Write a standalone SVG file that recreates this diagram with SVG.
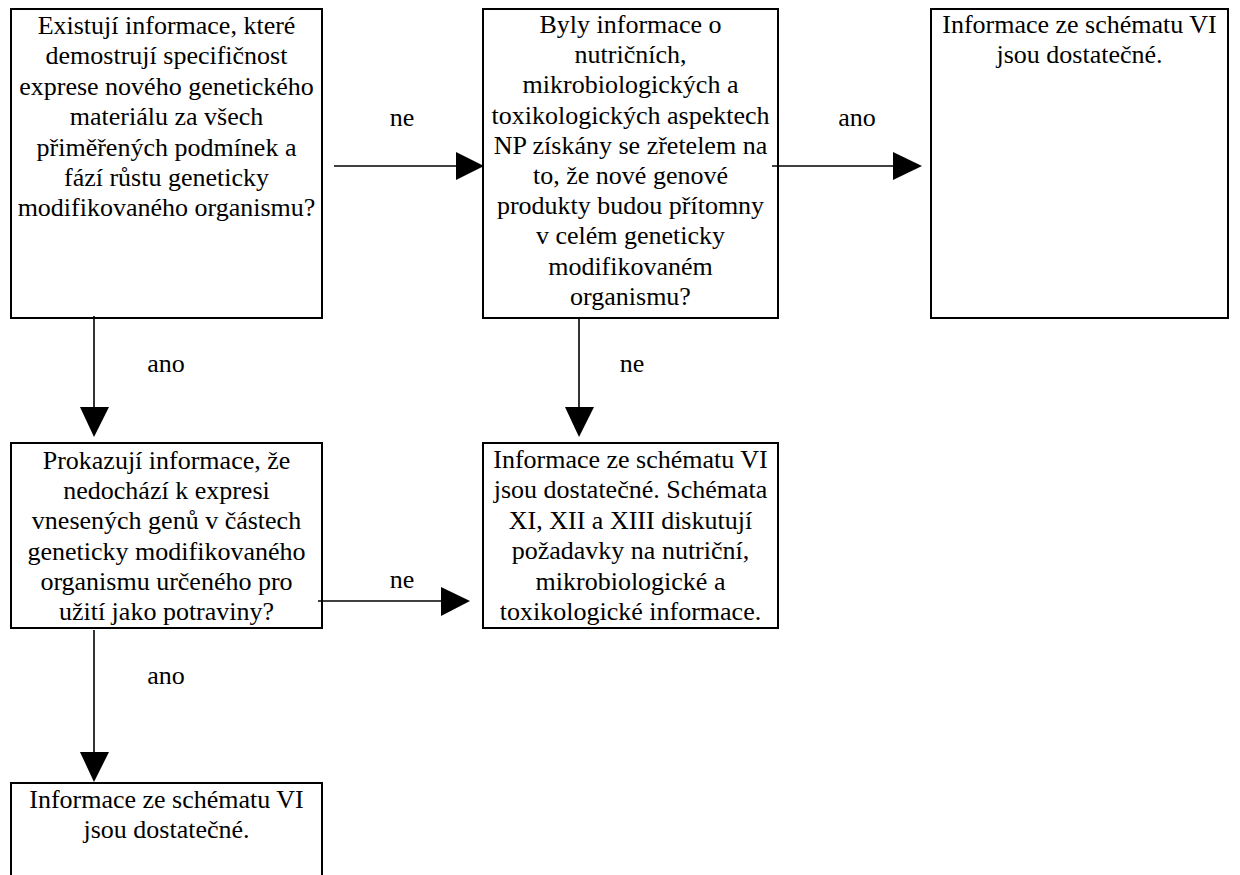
<svg xmlns="http://www.w3.org/2000/svg" width="1240" height="875" viewBox="0 0 1240 875" font-family="'Liberation Serif', 'Times New Roman', Times, serif">
  <style>
    text { font-family: 'Liberation Serif', 'Times New Roman', Times, serif; font-size: 26px; fill: #000000; text-anchor: middle; }
    .box { fill: #ffffff; stroke: #000000; stroke-width: 2; }
    .line { stroke: #000000; stroke-width: 1.6; fill: none; }
    .head { fill: #000000; stroke: none; }
  </style>
  <rect width="1240" height="875" fill="#ffffff"/>

  <!-- decision 1 -->
  <g id="q1">
    <rect class="box" x="11" y="9" width="311" height="309"/>
    <text x="166.5" y="34">Existují informace, které</text>
    <text x="166.5" y="64.4">demostrují specifičnost</text>
    <text x="166.5" y="94.8">exprese nového genetického</text>
    <text x="166.5" y="125.2">materiálu za všech</text>
    <text x="166.5" y="155.6">přiměřených podmínek a</text>
    <text x="166.5" y="186">fází růstu geneticky</text>
    <text x="166.5" y="216.4">modifikovaného organismu?</text>
  </g>

  <!-- decision 2 -->
  <g id="q2">
    <rect class="box" x="483" y="9" width="295" height="309"/>
    <text x="630.5" y="33">Byly informace o</text>
    <text x="630.5" y="63.2">nutričních,</text>
    <text x="630.5" y="93.4">mikrobiologických a</text>
    <text x="630.5" y="123.6">toxikologických aspektech</text>
    <text x="630.5" y="153.8">NP získány se zřetelem na</text>
    <text x="630.5" y="184">to, že nové genové</text>
    <text x="630.5" y="214.2">produkty budou přítomny</text>
    <text x="630.5" y="244.4">v celém geneticky</text>
    <text x="630.5" y="274.6">modifikovaném</text>
    <text x="630.5" y="304.8">organismu?</text>
  </g>

  <!-- result: upper right -->
  <g id="r1">
    <rect class="box" x="931" y="9" width="297" height="309"/>
    <text x="1079.5" y="33">Informace ze schématu VI</text>
    <text x="1079.5" y="63.2">jsou dostatečné.</text>
  </g>

  <!-- decision 3 -->
  <g id="q3">
    <rect class="box" x="11" y="443" width="311" height="185"/>
    <text x="166.5" y="469">Prokazují informace, že</text>
    <text x="166.5" y="499.2">nedochází k expresi</text>
    <text x="166.5" y="529.4">vnesených genů v částech</text>
    <text x="166.5" y="559.6">geneticky modifikovaného</text>
    <text x="166.5" y="589.8">organismu určeného pro</text>
    <text x="166.5" y="620">užití jako potraviny?</text>
  </g>

  <!-- result: middle -->
  <g id="r2">
    <rect class="box" x="483" y="443" width="295" height="185"/>
    <text x="630.5" y="468">Informace ze schématu VI</text>
    <text x="630.5" y="498.4">jsou dostatečné. Schémata</text>
    <text x="630.5" y="528.8">XI, XII a XIII diskutují</text>
    <text x="630.5" y="559.2">požadavky na nutriční,</text>
    <text x="630.5" y="589.6">mikrobiologické a</text>
    <text x="630.5" y="620">toxikologické informace.</text>
  </g>

  <!-- result: bottom left -->
  <g id="r3">
    <rect class="box" x="11" y="783" width="311" height="110"/>
    <text x="166.5" y="808">Informace ze schématu VI</text>
    <text x="166.5" y="838.2">jsou dostatečné.</text>
  </g>

  <!-- connectors -->
  <g id="connectors">
    <line class="line" x1="334" y1="166" x2="458" y2="166"/>
    <polygon class="head" points="456,152 484,166 456,180"/>

    <line class="line" x1="772" y1="166" x2="895" y2="166"/>
    <polygon class="head" points="893,152 922,166 893,180"/>

    <line class="line" x1="94" y1="316" x2="94" y2="409"/>
    <polygon class="head" points="80,407 94,437 109,407"/>

    <line class="line" x1="579" y1="318" x2="579" y2="409"/>
    <polygon class="head" points="565,407 579,437 594,407"/>

    <line class="line" x1="318" y1="601" x2="443" y2="601"/>
    <polygon class="head" points="441,587 470,601 441,616"/>

    <line class="line" x1="94" y1="630" x2="94" y2="754"/>
    <polygon class="head" points="80,752 94,782 109,752"/>
  </g>

  <!-- branch labels -->
  <g id="labels">
    <text x="402" y="126">ne</text>
    <text x="857" y="126">ano</text>
    <text x="166" y="372">ano</text>
    <text x="632" y="372">ne</text>
    <text x="402" y="588">ne</text>
    <text x="166" y="684">ano</text>
  </g>
</svg>
